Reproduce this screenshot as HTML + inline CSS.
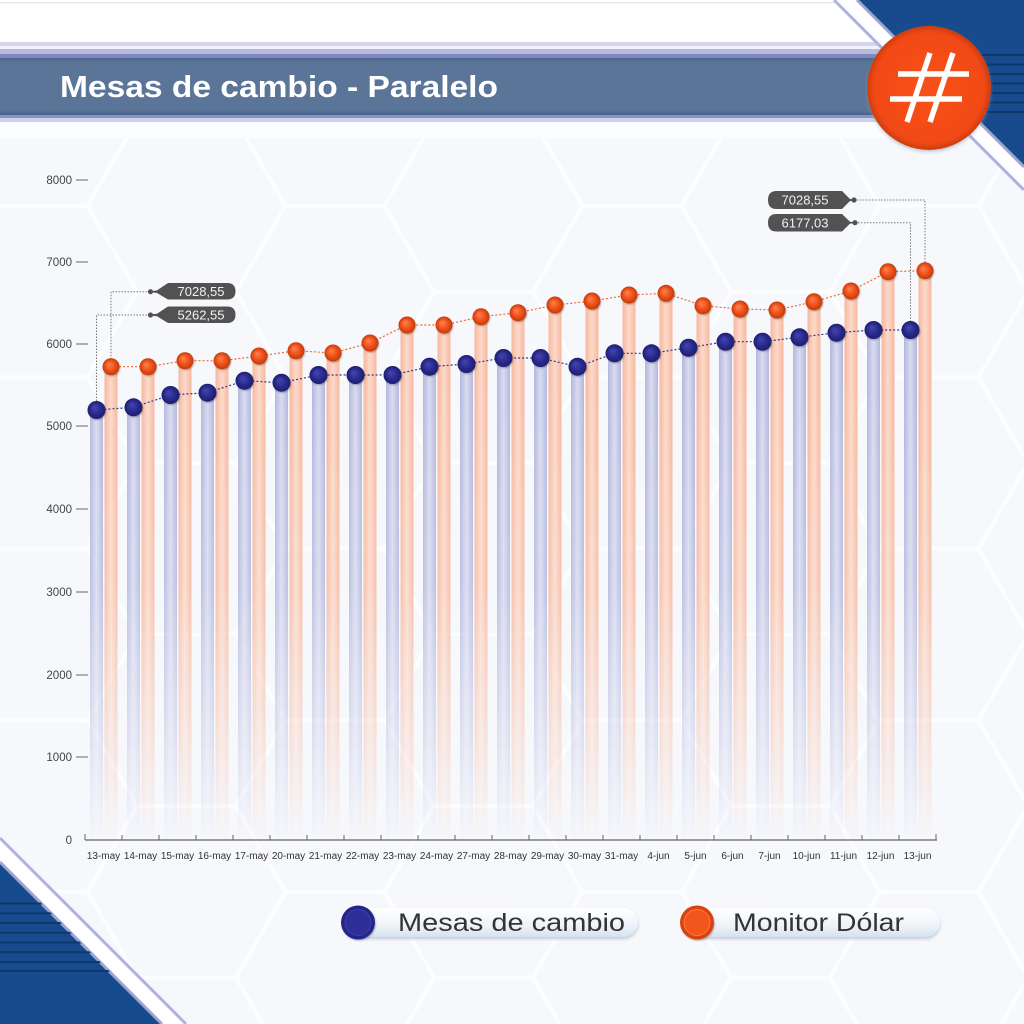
<!DOCTYPE html>
<html>
<head>
<meta charset="utf-8">
<style>
html,body{margin:0;padding:0;background:#f6f8fc;}
svg{display:block;}
text{font-family:"Liberation Sans",sans-serif;}
</style>
</head>
<body>
<svg width="1024" height="1024" viewBox="0 0 1024 1024" xmlns="http://www.w3.org/2000/svg">
<defs>
  <pattern id="hex" patternUnits="userSpaceOnUse" x="929" y="463" width="297" height="171.5">
    <g fill="none" stroke="#fcfdff" stroke-width="4">
      <polygon points="-99,0 -49.5,-85.7 49.5,-85.7 99,0 49.5,85.7 -49.5,85.7"/>
      <polygon points="198,0 247.5,-85.7 346.5,-85.7 396,0 346.5,85.7 247.5,85.7"/>
      <polygon points="-99,171.5 -49.5,85.8 49.5,85.8 99,171.5 49.5,257.2 -49.5,257.2"/>
      <polygon points="198,171.5 247.5,85.8 346.5,85.8 396,171.5 346.5,257.2 247.5,257.2"/>
      <polygon points="49.5,85.75 99,0.05 198,0.05 247.5,85.75 198,171.45 99,171.45"/>
    </g>
  </pattern>
  <linearGradient id="band" x1="0" y1="0" x2="0" y2="1">
    <stop offset="0" stop-color="#4a6590"/>
    <stop offset="0.08" stop-color="#5b7599"/>
    <stop offset="0.92" stop-color="#5b7599"/>
    <stop offset="1" stop-color="#45608a"/>
  </linearGradient>
  <linearGradient id="bb" x1="0" y1="0" x2="1" y2="0">
    <stop offset="0" stop-color="#b3b7dc"/>
    <stop offset="0.5" stop-color="#d9dbf0"/>
    <stop offset="1" stop-color="#b3b7dc"/>
  </linearGradient>
  <linearGradient id="ob" x1="0" y1="0" x2="1" y2="0">
    <stop offset="0" stop-color="#f6b79d"/>
    <stop offset="0.5" stop-color="#fcdacb"/>
    <stop offset="1" stop-color="#f6b79d"/>
  </linearGradient>
  <linearGradient id="fade" gradientUnits="userSpaceOnUse" x1="0" y1="380" x2="0" y2="845">
    <stop offset="0" stop-color="#fff" stop-opacity="1"/>
    <stop offset="0.45" stop-color="#fff" stop-opacity="0.85"/>
    <stop offset="0.8" stop-color="#fff" stop-opacity="0.35"/>
    <stop offset="1" stop-color="#fff" stop-opacity="0"/>
  </linearGradient>
  <mask id="barmask" maskUnits="userSpaceOnUse" x="0" y="0" width="1024" height="1024">
    <rect x="0" y="0" width="1024" height="1024" fill="url(#fade)"/>
  </mask>
  <radialGradient id="bd" cx="0.5" cy="0.5" r="0.5" fx="0.38" fy="0.35">
    <stop offset="0" stop-color="#4446b0"/>
    <stop offset="0.6" stop-color="#2a2b8e"/>
    <stop offset="1" stop-color="#1d1e6e"/>
  </radialGradient>
  <radialGradient id="od" cx="0.5" cy="0.5" r="0.5" fx="0.38" fy="0.35">
    <stop offset="0" stop-color="#ff8550"/>
    <stop offset="0.6" stop-color="#ee5019"/>
    <stop offset="1" stop-color="#c23a0b"/>
  </radialGradient>
  <radialGradient id="logo" cx="0.5" cy="0.5" r="0.5">
    <stop offset="0" stop-color="#f9511a"/>
    <stop offset="0.88" stop-color="#f24a15"/>
    <stop offset="1" stop-color="#cf3d0e"/>
  </radialGradient>
  <linearGradient id="pill" x1="0" y1="0" x2="0" y2="1">
    <stop offset="0" stop-color="#ffffff"/>
    <stop offset="0.6" stop-color="#eef3f9"/>
    <stop offset="1" stop-color="#d6e2ee"/>
  </linearGradient>
  <filter id="sh" x="-30%" y="-30%" width="160%" height="160%">
    <feDropShadow dx="0.8" dy="1.2" stdDeviation="0.9" flood-color="#000" flood-opacity="0.28"/>
  </filter>
  <filter id="sh2" x="-10%" y="-10%" width="120%" height="130%">
    <feDropShadow dx="0" dy="2" stdDeviation="1.5" flood-color="#8a9ab0" flood-opacity="0.5"/>
  </filter>
  <clipPath id="trc"><polygon points="857,0 1024,0 1024,167"/></clipPath>
  <clipPath id="blc"><polygon points="0,862 0,1024 162,1024"/></clipPath>
</defs>

<!-- background -->
<rect x="0" y="0" width="1024" height="1024" fill="#f6f8fc"/>
<rect x="0" y="0" width="1024" height="1024" fill="url(#hex)"/>
<rect x="0" y="0" width="1024" height="42" fill="#ffffff"/>
<rect x="0" y="2" width="840" height="1.2" fill="#e1e7f0"/>
<rect x="0" y="122" width="1024" height="16" fill="#fcfdfe"/>

<!-- header band -->
<rect x="0" y="42" width="900" height="4" fill="#d4d4ee"/>
<rect x="0" y="46" width="900" height="3" fill="#f2f2fb"/>
<rect x="0" y="49" width="900" height="5" fill="#b7b9e0"/>
<rect x="0" y="54" width="900" height="4" fill="#7f8ab8"/>
<rect x="0" y="58" width="900" height="57" fill="url(#band)"/>
<rect x="0" y="115" width="900" height="3" fill="#8a92c4"/>
<rect x="0" y="118" width="900" height="4" fill="#cfd1ec"/>

<!-- top-right diagonal -->
<polygon points="832,0 857,0 1024,167 1024,192" fill="#ffffff"/>
<line x1="834" y1="0" x2="1024" y2="190" stroke="#aeb2dc" stroke-width="3"/>
<polygon points="857,0 1024,0 1024,167" fill="#174b8d"/>
<line x1="857" y1="0" x2="1024" y2="167" stroke="#9fa6d6" stroke-width="3"/>
<g clip-path="url(#trc)" stroke="#0e376b" stroke-width="2">
  <line x1="850" y1="55" x2="1024" y2="55"/>
  <line x1="850" y1="64.5" x2="1024" y2="64.5"/>
  <line x1="850" y1="74" x2="1024" y2="74"/>
  <line x1="850" y1="83.5" x2="1024" y2="83.5"/>
  <line x1="850" y1="93" x2="1024" y2="93"/>
  <line x1="850" y1="102.5" x2="1024" y2="102.5"/>
  <line x1="850" y1="112" x2="1024" y2="112"/>
</g>

<!-- bottom-left diagonal -->
<polygon points="0,836 0,862 162,1024 188,1024" fill="#ffffff"/>
<line x1="0" y1="838" x2="186" y2="1024" stroke="#aeb2dc" stroke-width="3"/>
<polygon points="0,862 0,1024 162,1024" fill="#174b8d"/>
<line x1="0" y1="862" x2="162" y2="1024" stroke="#9fa6d6" stroke-width="3"/>
<g clip-path="url(#blc)" stroke="#0e376b" stroke-width="2">
  <line x1="0" y1="903.5" x2="200" y2="903.5"/>
  <line x1="0" y1="913.3" x2="200" y2="913.3"/>
  <line x1="0" y1="923" x2="200" y2="923"/>
  <line x1="0" y1="932.7" x2="200" y2="932.7"/>
  <line x1="0" y1="942.5" x2="200" y2="942.5"/>
  <line x1="0" y1="952.3" x2="200" y2="952.3"/>
  <line x1="0" y1="962" x2="200" y2="962"/>
  <line x1="0" y1="971" x2="200" y2="971"/>
</g>

<!-- title -->
<text x="60" y="97" font-size="31" font-weight="bold" fill="#ffffff" textLength="438" lengthAdjust="spacingAndGlyphs">Mesas de cambio - Paralelo</text>

<!-- logo -->
<circle cx="929" cy="88" r="62" fill="url(#logo)" filter="url(#sh2)"/>
<g stroke="#ffffff" stroke-width="5.5" stroke-linecap="butt">
  <line x1="898" y1="74" x2="969" y2="74"/>
  <line x1="890" y1="99" x2="962" y2="99"/>
  <line x1="930" y1="53" x2="907" y2="122"/>
  <line x1="953" y1="53" x2="930" y2="122"/>
</g>

<!-- y axis -->
<g font-size="11.5" fill="#444" text-anchor="end">
  <text x="72" y="184">8000</text>
  <text x="72" y="266">7000</text>
  <text x="72" y="348">6000</text>
  <text x="72" y="430">5000</text>
  <text x="72" y="513">4000</text>
  <text x="72" y="596">3000</text>
  <text x="72" y="679">2000</text>
  <text x="72" y="761">1000</text>
  <text x="72" y="844">0</text>
</g>
<g stroke="#666" stroke-width="1">
  <line x1="76" y1="180" x2="88" y2="180"/>
  <line x1="76" y1="262" x2="88" y2="262"/>
  <line x1="76" y1="344" x2="88" y2="344"/>
  <line x1="76" y1="426" x2="88" y2="426"/>
  <line x1="76" y1="509" x2="88" y2="509"/>
  <line x1="76" y1="592" x2="88" y2="592"/>
  <line x1="76" y1="675" x2="88" y2="675"/>
  <line x1="76" y1="757" x2="88" y2="757"/>
</g>

<!-- bars -->
<g mask="url(#barmask)">
  <g fill="url(#bb)">
    <rect x="90" y="410" width="13" height="430"/>
    <rect x="127" y="407.3" width="13" height="432.7"/>
    <rect x="164" y="395" width="13" height="445"/>
    <rect x="201" y="392.7" width="13" height="447.3"/>
    <rect x="238" y="380.7" width="13" height="459.3"/>
    <rect x="275" y="382.7" width="13" height="457.3"/>
    <rect x="312" y="375" width="13" height="465"/>
    <rect x="349" y="375" width="13" height="465"/>
    <rect x="386" y="375" width="13" height="465"/>
    <rect x="423" y="366.7" width="13" height="473.3"/>
    <rect x="460" y="364" width="13" height="476"/>
    <rect x="497" y="358" width="13" height="482"/>
    <rect x="534" y="358" width="13" height="482"/>
    <rect x="571" y="366.7" width="13" height="473.3"/>
    <rect x="608" y="353.3" width="13" height="486.7"/>
    <rect x="645" y="353.3" width="13" height="486.7"/>
    <rect x="682" y="347.7" width="13" height="492.3"/>
    <rect x="719" y="341.7" width="13" height="498.3"/>
    <rect x="756" y="341.7" width="13" height="498.3"/>
    <rect x="793" y="337.3" width="13" height="502.7"/>
    <rect x="830" y="332.7" width="13" height="507.3"/>
    <rect x="867" y="330" width="13" height="510"/>
    <rect x="904" y="330" width="13" height="510"/>
  </g>
  <g fill="url(#ob)">
    <rect x="104.5" y="366.7" width="13" height="473.3"/>
    <rect x="141.5" y="366.7" width="13" height="473.3"/>
    <rect x="178.5" y="360.7" width="13" height="479.3"/>
    <rect x="215.5" y="360.7" width="13" height="479.3"/>
    <rect x="252.5" y="356" width="13" height="484"/>
    <rect x="289.5" y="350.7" width="13" height="489.3"/>
    <rect x="326.5" y="353" width="13" height="487"/>
    <rect x="363.5" y="343" width="13" height="497"/>
    <rect x="400.5" y="325" width="13" height="515"/>
    <rect x="437.5" y="325" width="13" height="515"/>
    <rect x="474.5" y="316.7" width="13" height="523.3"/>
    <rect x="511.5" y="312.7" width="13" height="527.3"/>
    <rect x="548.5" y="305" width="13" height="535"/>
    <rect x="585.5" y="301" width="13" height="539"/>
    <rect x="622.5" y="295" width="13" height="545"/>
    <rect x="659.5" y="293.3" width="13" height="546.7"/>
    <rect x="696.5" y="305.7" width="13" height="534.3"/>
    <rect x="733.5" y="309" width="13" height="531"/>
    <rect x="770.5" y="310" width="13" height="530"/>
    <rect x="807.5" y="301.7" width="13" height="538.3"/>
    <rect x="844.5" y="291" width="13" height="549"/>
    <rect x="881.5" y="271.7" width="13" height="568.3"/>
    <rect x="918.5" y="270.7" width="13" height="569.3"/>
  </g>
</g>

<!-- x axis -->
<line x1="85" y1="840" x2="937" y2="840" stroke="#666" stroke-width="1.2"/>
<path d="M85 834V840M122 835V840M159 835V840M196 835V840M233 835V840M270 835V840M307 835V840M344 835V840M381 835V840M418 835V840M455 835V840M492 835V840M529 835V840M566 835V840M603 835V840M640 835V840M677 835V840M714 835V840M751 835V840M788 835V840M825 835V840M862 835V840M899 835V840M936 834V840" stroke="#666" stroke-width="1"/>
<g font-size="10" fill="#333" text-anchor="middle">
  <text x="103.5" y="859">13-may</text>
  <text x="140.5" y="859">14-may</text>
  <text x="177.5" y="859">15-may</text>
  <text x="214.5" y="859">16-may</text>
  <text x="251.5" y="859">17-may</text>
  <text x="288.5" y="859">20-may</text>
  <text x="325.5" y="859">21-may</text>
  <text x="362.5" y="859">22-may</text>
  <text x="399.5" y="859">23-may</text>
  <text x="436.5" y="859">24-may</text>
  <text x="473.5" y="859">27-may</text>
  <text x="510.5" y="859">28-may</text>
  <text x="547.5" y="859">29-may</text>
  <text x="584.5" y="859">30-may</text>
  <text x="621.5" y="859">31-may</text>
  <text x="658.5" y="859">4-jun</text>
  <text x="695.5" y="859">5-jun</text>
  <text x="732.5" y="859">6-jun</text>
  <text x="769.5" y="859">7-jun</text>
  <text x="806.5" y="859">10-jun</text>
  <text x="843.5" y="859">11-jun</text>
  <text x="880.5" y="859">12-jun</text>
  <text x="917.5" y="859">13-jun</text>
</g>

<!-- leader lines -->
<g fill="none" stroke="#7a7a7a" stroke-width="1" stroke-dasharray="1.5,1.5">
  <path d="M150 291.7H111V367"/>
  <path d="M150 315H96.5V410"/>
  <path d="M854 200H925V271"/>
  <path d="M855 222.7H910.5V330"/>
</g>

<!-- series lines -->
<polyline fill="none" stroke="#3a3a86" stroke-width="1.2" stroke-dasharray="2,2" points="96.5,410 133.5,407.3 170.5,395 207.5,392.7 244.5,380.7 281.5,382.7 318.5,375 355.5,375 392.5,375 429.5,366.7 466.5,364 503.5,358 540.5,358 577.5,366.7 614.5,353.3 651.5,353.3 688.5,347.7 725.5,341.7 762.5,341.7 799.5,337.3 836.5,332.7 873.5,330 910.5,330"/>
<polyline fill="none" stroke="#ef6a38" stroke-width="1.2" stroke-dasharray="2,2" points="111,366.7 148,366.7 185,360.7 222,360.7 259,356 296,350.7 333,353 370,343 407,325 444,325 481,316.7 518,312.7 555,305 592,301 629,295 666,293.3 703,305.7 740,309 777,310 814,301.7 851,291 888,271.7 925,270.7"/>

<!-- dots -->
<g fill="url(#bd)" filter="url(#sh)">
  <circle cx="96.5" cy="410" r="9"/>
  <circle cx="133.5" cy="407.3" r="9"/>
  <circle cx="170.5" cy="395" r="9"/>
  <circle cx="207.5" cy="392.7" r="9"/>
  <circle cx="244.5" cy="380.7" r="9"/>
  <circle cx="281.5" cy="382.7" r="9"/>
  <circle cx="318.5" cy="375" r="9"/>
  <circle cx="355.5" cy="375" r="9"/>
  <circle cx="392.5" cy="375" r="9"/>
  <circle cx="429.5" cy="366.7" r="9"/>
  <circle cx="466.5" cy="364" r="9"/>
  <circle cx="503.5" cy="358" r="9"/>
  <circle cx="540.5" cy="358" r="9"/>
  <circle cx="577.5" cy="366.7" r="9"/>
  <circle cx="614.5" cy="353.3" r="9"/>
  <circle cx="651.5" cy="353.3" r="9"/>
  <circle cx="688.5" cy="347.7" r="9"/>
  <circle cx="725.5" cy="341.7" r="9"/>
  <circle cx="762.5" cy="341.7" r="9"/>
  <circle cx="799.5" cy="337.3" r="9"/>
  <circle cx="836.5" cy="332.7" r="9"/>
  <circle cx="873.5" cy="330" r="9"/>
  <circle cx="910.5" cy="330" r="9"/>
</g>
<g fill="url(#od)" filter="url(#sh)">
  <circle cx="111" cy="366.7" r="8.5"/>
  <circle cx="148" cy="366.7" r="8.5"/>
  <circle cx="185" cy="360.7" r="8.5"/>
  <circle cx="222" cy="360.7" r="8.5"/>
  <circle cx="259" cy="356" r="8.5"/>
  <circle cx="296" cy="350.7" r="8.5"/>
  <circle cx="333" cy="353" r="8.5"/>
  <circle cx="370" cy="343" r="8.5"/>
  <circle cx="407" cy="325" r="8.5"/>
  <circle cx="444" cy="325" r="8.5"/>
  <circle cx="481" cy="316.7" r="8.5"/>
  <circle cx="518" cy="312.7" r="8.5"/>
  <circle cx="555" cy="305" r="8.5"/>
  <circle cx="592" cy="301" r="8.5"/>
  <circle cx="629" cy="295" r="8.5"/>
  <circle cx="666" cy="293.3" r="8.5"/>
  <circle cx="703" cy="305.7" r="8.5"/>
  <circle cx="740" cy="309" r="8.5"/>
  <circle cx="777" cy="310" r="8.5"/>
  <circle cx="814" cy="301.7" r="8.5"/>
  <circle cx="851" cy="291" r="8.5"/>
  <circle cx="888" cy="271.7" r="8.5"/>
  <circle cx="925" cy="270.7" r="8.5"/>
</g>

<!-- annotation tags -->
<g fill="#525252">
  <path d="M168 283H227Q235.5 283 235.5 291.3Q235.5 299.5 227 299.5H168L157 293L152 292.4V291L157 290.4Z"/>
  <circle cx="150.5" cy="291.7" r="2.6"/>
  <path d="M168 306.5H227Q235.5 306.5 235.5 314.8Q235.5 323 227 323H168L157 316.3L152 315.7V314.3L157 313.7Z"/>
  <circle cx="150.5" cy="315" r="2.6"/>
  <path d="M842 191H776.5Q768 191 768 200Q768 209 776.5 209H842L850 201L853 200.7V199.3L850 199Z"/>
  <circle cx="854" cy="200" r="2.6"/>
  <path d="M842 214H776.5Q768 214 768 222.7Q768 231.5 776.5 231.5H842L850 223.6L853 223.4V222L850 221.8Z"/>
  <circle cx="855" cy="222.7" r="2.6"/>
</g>
<g font-size="13" fill="#f2f2f2" text-anchor="middle">
  <text x="201" y="296">7028,55</text>
  <text x="201" y="319.5">5262,55</text>
  <text x="805" y="204.5">7028,55</text>
  <text x="805" y="227.5">6177,03</text>
</g>

<!-- legend -->
<g filter="url(#sh2)">
  <rect x="352" y="908" width="286" height="29" rx="14.5" fill="url(#pill)"/>
  <rect x="690" y="908" width="250" height="29" rx="14.5" fill="url(#pill)"/>
</g>
<circle cx="358" cy="922.5" r="17" fill="#24258a" filter="url(#sh)"/>
<circle cx="358" cy="922.5" r="13" fill="#2e2f96" stroke="#3d3ea6" stroke-width="1"/>
<circle cx="697" cy="922.5" r="17" fill="#d9420f" filter="url(#sh)"/>
<circle cx="697" cy="922.5" r="13" fill="#f2561d" stroke="#ff7a44" stroke-width="1"/>
<text x="398" y="931" font-size="25" fill="#333" textLength="227" lengthAdjust="spacingAndGlyphs">Mesas de cambio</text>
<text x="733" y="931" font-size="25" fill="#333" textLength="171" lengthAdjust="spacingAndGlyphs">Monitor Dólar</text>
</svg>
</body>
</html>
